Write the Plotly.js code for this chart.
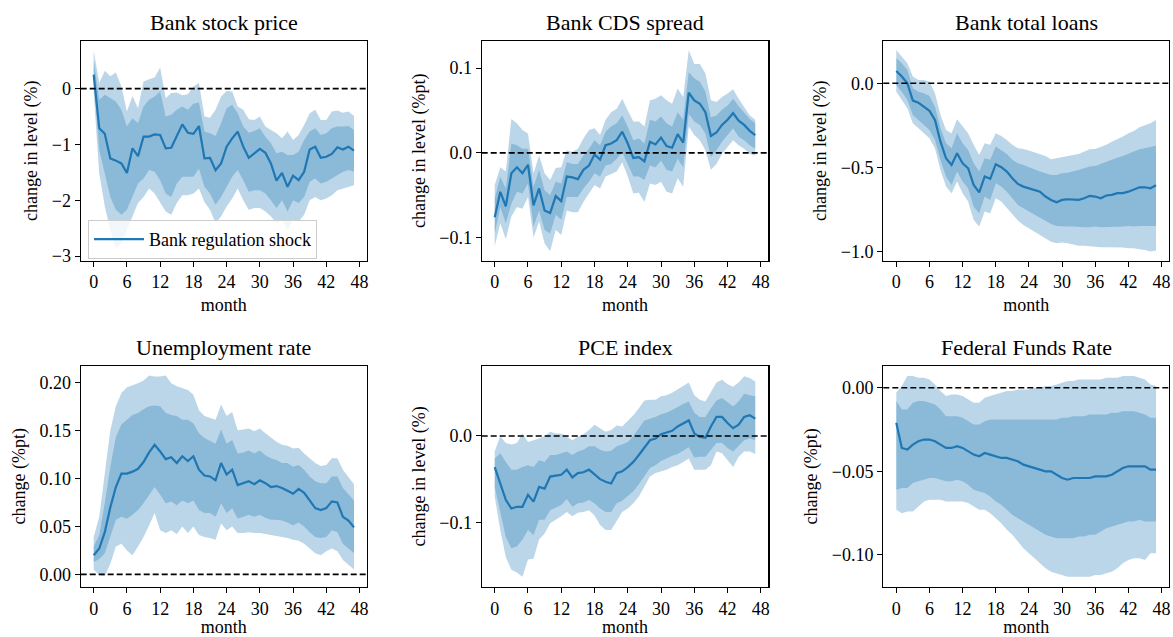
<!DOCTYPE html>
<html>
<head>
<meta charset="utf-8">
<script src="https://cdn.plot.ly/plotly-3.0.1.min.js"></script>
<style>html,body{margin:0;padding:0;background:#fff;}#chart{width:1173px;height:637px;}</style>
</head>
<body>
<div id="chart"></div>
<script>
// ---------------- DATA ----------------
const months = [0,1,2,3,4,5,6,7,8,9,10,11,12,13,14,15,16,17,18,19,20,21,22,23,24,25,26,27,28,29,30,31,32,33,34,35,36,37,38,39,40,41,42,43,44,45,46,47];
const xTicks = [0,6,12,18,24,30,36,42,48];
const panelTitles = ["Bank stock price","Bank CDS spread","Bank total loans","Unemployment rate","PCE index","Federal Funds Rate"];
const yTitles = ["change in level (%)","change in level (%pt)","change in level (%)","change (%pt)","change in level (%)","change (%pt)"];
const legendName = "Bank regulation shock";

// Bank stock price
const stock_med = [0.25,-0.71,-0.81,-1.25,-1.29,-1.34,-1.51,-1.07,-1.21,-0.86,-0.86,-0.82,-0.83,-1.07,-1.06,-0.85,-0.64,-0.79,-0.81,-0.67,-1.25,-1.24,-1.46,-1.34,-1.04,-0.89,-0.77,-1.04,-1.24,-1.16,-1.08,-1.15,-1.34,-1.65,-1.51,-1.76,-1.56,-1.64,-1.49,-1.09,-1.04,-1.24,-1.22,-1.17,-1.05,-1.09,-1.04,-1.11];
const stock_hi90 = [0.68,0.10,0.32,0.22,0.29,0.04,-0.41,-0.13,-0.35,0.13,0.17,0.20,0.38,-0.17,-0.08,-0.07,-0.12,-0.10,0.04,0.10,-0.50,-0.52,-0.38,-0.14,-0.04,-0.05,-0.32,-0.38,-0.55,-0.56,-0.50,-0.68,-0.74,-0.80,-0.89,-0.77,-0.92,-0.83,-0.65,-0.44,-0.38,-0.56,-0.56,-0.41,-0.39,-0.43,-0.41,-0.49];
const stock_hi68 = [0.51,-0.20,-0.11,-0.17,-0.23,-0.38,-0.68,-0.53,-0.62,-0.32,-0.20,-0.14,-0.05,-0.50,-0.47,-0.38,-0.32,-0.38,-0.27,-0.25,-0.77,-0.80,-0.85,-0.62,-0.35,-0.29,-0.44,-0.68,-0.79,-0.76,-0.71,-0.86,-0.98,-1.16,-1.13,-1.19,-1.19,-1.13,-0.92,-0.77,-0.71,-0.83,-0.80,-0.71,-0.68,-0.68,-0.67,-0.74];
const stock_lo68 = [0.16,-1.10,-1.52,-1.94,-2.17,-2.26,-2.17,-1.94,-1.70,-1.61,-1.46,-1.49,-1.64,-1.88,-1.94,-1.70,-1.58,-1.58,-1.58,-1.43,-1.76,-1.88,-2.08,-1.94,-1.76,-1.58,-1.46,-1.64,-1.85,-1.82,-1.82,-1.88,-2.00,-2.14,-2.00,-2.20,-2.00,-2.05,-1.94,-1.67,-1.61,-1.70,-1.67,-1.61,-1.55,-1.49,-1.46,-1.49];
const stock_lo90 = [-0.08,-1.52,-2.11,-2.53,-2.86,-2.77,-2.53,-2.29,-2.05,-1.94,-1.79,-1.88,-2.03,-2.20,-2.26,-2.05,-1.91,-1.91,-1.88,-1.79,-2.03,-2.17,-2.41,-2.29,-2.11,-1.97,-1.79,-2.00,-2.17,-2.14,-2.14,-2.20,-2.29,-2.41,-2.35,-2.53,-2.35,-2.38,-2.26,-2.00,-1.94,-2.00,-1.97,-1.91,-1.82,-1.79,-1.76,-1.73];

// Bank CDS spread
const cds_med = [-0.076,-0.046,-0.063,-0.024,-0.017,-0.024,-0.014,-0.062,-0.042,-0.068,-0.071,-0.051,-0.057,-0.028,-0.029,-0.031,-0.020,-0.015,-0.002,-0.008,0.009,0.011,0.015,0.025,0.011,-0.006,-0.005,-0.010,0.013,0.010,0.018,0.008,0.006,0.022,0.012,0.071,0.062,0.058,0.048,0.020,0.024,0.033,0.039,0.047,0.038,0.033,0.026,0.021];
const cds_hi90 = [-0.038,-0.017,-0.022,0.040,0.035,0.027,0.023,-0.024,-0.003,-0.024,-0.032,-0.018,-0.017,0.003,0.001,0.005,0.017,0.027,0.029,0.021,0.039,0.048,0.052,0.064,0.050,0.037,0.037,0.031,0.062,0.064,0.068,0.062,0.058,0.076,0.066,0.121,0.105,0.105,0.094,0.062,0.060,0.066,0.070,0.075,0.064,0.054,0.044,0.039];
const cds_hi68 = [-0.054,-0.028,-0.042,0.011,0.009,0.005,0.005,-0.040,-0.020,-0.044,-0.050,-0.034,-0.036,-0.011,-0.013,-0.013,-0.003,0.005,0.015,0.009,0.025,0.031,0.035,0.044,0.031,0.015,0.017,0.011,0.039,0.037,0.043,0.035,0.031,0.048,0.039,0.095,0.088,0.084,0.072,0.042,0.044,0.051,0.056,0.064,0.055,0.048,0.040,0.035];
const cds_lo68 = [-0.095,-0.064,-0.083,-0.060,-0.046,-0.048,-0.036,-0.087,-0.068,-0.091,-0.095,-0.073,-0.079,-0.052,-0.052,-0.052,-0.042,-0.034,-0.024,-0.028,-0.015,-0.013,-0.007,0.001,-0.013,-0.028,-0.028,-0.032,-0.015,-0.017,-0.009,-0.020,-0.022,-0.007,-0.017,0.046,0.037,0.033,0.023,-0.005,0.003,0.013,0.021,0.029,0.019,0.015,0.009,0.005];
const cds_lo90 = [-0.110,-0.083,-0.102,-0.075,-0.064,-0.066,-0.052,-0.100,-0.081,-0.107,-0.116,-0.091,-0.097,-0.068,-0.070,-0.070,-0.058,-0.048,-0.038,-0.042,-0.028,-0.025,-0.022,-0.011,-0.028,-0.048,-0.047,-0.058,-0.036,-0.038,-0.034,-0.046,-0.048,-0.030,-0.040,0.031,0.021,0.015,0.003,-0.020,-0.013,-0.001,0.007,0.015,0.009,0.005,-0.001,-0.003];

// Bank total loans
const loan_med = [0.073,0.040,0.000,-0.103,-0.115,-0.139,-0.164,-0.218,-0.347,-0.446,-0.485,-0.416,-0.475,-0.505,-0.604,-0.648,-0.554,-0.568,-0.481,-0.499,-0.525,-0.564,-0.598,-0.614,-0.624,-0.634,-0.644,-0.673,-0.693,-0.707,-0.693,-0.689,-0.693,-0.693,-0.683,-0.669,-0.673,-0.683,-0.667,-0.663,-0.653,-0.653,-0.644,-0.630,-0.618,-0.618,-0.624,-0.606];
const loan_hi90 = [0.198,0.158,0.119,0.040,0.020,0.020,0.010,-0.059,-0.188,-0.277,-0.297,-0.214,-0.257,-0.297,-0.366,-0.426,-0.356,-0.366,-0.297,-0.313,-0.337,-0.366,-0.386,-0.390,-0.400,-0.412,-0.420,-0.432,-0.451,-0.444,-0.436,-0.432,-0.426,-0.420,-0.406,-0.392,-0.390,-0.376,-0.366,-0.347,-0.333,-0.317,-0.297,-0.283,-0.261,-0.248,-0.238,-0.218];
const loan_hi68 = [0.149,0.119,0.079,-0.030,-0.050,-0.059,-0.075,-0.139,-0.267,-0.356,-0.386,-0.297,-0.356,-0.396,-0.475,-0.525,-0.446,-0.455,-0.376,-0.396,-0.420,-0.455,-0.475,-0.485,-0.499,-0.511,-0.525,-0.535,-0.545,-0.545,-0.535,-0.531,-0.525,-0.515,-0.505,-0.495,-0.491,-0.479,-0.465,-0.451,-0.442,-0.432,-0.420,-0.406,-0.392,-0.386,-0.380,-0.372];
const loan_lo68 = [-0.010,-0.050,-0.099,-0.188,-0.218,-0.248,-0.277,-0.337,-0.455,-0.554,-0.604,-0.525,-0.584,-0.624,-0.733,-0.772,-0.673,-0.693,-0.594,-0.614,-0.644,-0.683,-0.723,-0.743,-0.762,-0.782,-0.802,-0.822,-0.836,-0.848,-0.851,-0.851,-0.851,-0.855,-0.855,-0.855,-0.851,-0.855,-0.855,-0.851,-0.851,-0.851,-0.848,-0.851,-0.848,-0.848,-0.851,-0.848];
const loan_lo90 = [-0.050,-0.099,-0.149,-0.238,-0.267,-0.297,-0.327,-0.386,-0.515,-0.614,-0.653,-0.584,-0.653,-0.703,-0.812,-0.851,-0.762,-0.772,-0.683,-0.703,-0.743,-0.782,-0.816,-0.842,-0.861,-0.881,-0.901,-0.921,-0.941,-0.950,-0.946,-0.950,-0.960,-0.966,-0.966,-0.970,-0.970,-0.974,-0.974,-0.974,-0.974,-0.976,-0.980,-0.980,-0.986,-0.990,-1.000,-0.994];

// Unemployment rate
const un_med = [0.020,0.027,0.044,0.070,0.091,0.105,0.105,0.107,0.110,0.117,0.127,0.135,0.128,0.120,0.122,0.116,0.123,0.118,0.123,0.109,0.103,0.102,0.098,0.116,0.104,0.109,0.093,0.095,0.097,0.094,0.098,0.095,0.091,0.092,0.090,0.087,0.084,0.089,0.085,0.077,0.069,0.067,0.069,0.076,0.075,0.060,0.056,0.049];
const un_hi90 = [0.039,0.060,0.105,0.150,0.175,0.189,0.195,0.197,0.199,0.202,0.207,0.206,0.206,0.207,0.199,0.196,0.194,0.192,0.187,0.171,0.165,0.163,0.161,0.177,0.165,0.169,0.150,0.151,0.152,0.149,0.152,0.147,0.142,0.138,0.135,0.134,0.131,0.132,0.126,0.121,0.116,0.113,0.114,0.121,0.121,0.109,0.102,0.094];
const un_hi68 = [0.029,0.041,0.074,0.112,0.143,0.156,0.161,0.166,0.168,0.172,0.175,0.176,0.175,0.168,0.166,0.165,0.161,0.161,0.157,0.147,0.142,0.139,0.136,0.151,0.136,0.140,0.126,0.127,0.129,0.126,0.129,0.124,0.121,0.119,0.116,0.116,0.112,0.114,0.109,0.102,0.097,0.095,0.095,0.102,0.102,0.090,0.084,0.077];
const un_lo68 = [0.013,0.016,0.022,0.040,0.057,0.060,0.058,0.062,0.067,0.074,0.083,0.091,0.083,0.074,0.076,0.072,0.077,0.074,0.077,0.067,0.064,0.064,0.060,0.074,0.064,0.069,0.058,0.060,0.062,0.060,0.062,0.059,0.057,0.057,0.056,0.054,0.051,0.054,0.050,0.044,0.039,0.038,0.039,0.046,0.044,0.032,0.027,0.022];
const un_lo90 = [0.005,-0.001,-0.002,0.011,0.029,0.032,0.025,0.020,0.029,0.039,0.051,0.064,0.046,0.043,0.046,0.042,0.050,0.043,0.050,0.041,0.039,0.038,0.036,0.053,0.046,0.050,0.043,0.043,0.044,0.043,0.043,0.042,0.041,0.040,0.039,0.038,0.036,0.035,0.032,0.027,0.022,0.020,0.024,0.027,0.024,0.015,0.010,0.005];

// PCE index
const pce_med = [-0.036,-0.055,-0.074,-0.084,-0.082,-0.082,-0.068,-0.076,-0.059,-0.061,-0.047,-0.046,-0.045,-0.039,-0.048,-0.043,-0.042,-0.039,-0.044,-0.050,-0.053,-0.055,-0.043,-0.041,-0.036,-0.030,-0.022,-0.013,-0.005,-0.003,0.002,0.004,0.006,0.011,0.015,0.018,0.003,-0.001,-0.002,0.011,0.022,0.022,0.015,0.009,0.013,0.022,0.024,0.020];
const pce_hi90 = [-0.018,0.000,-0.008,-0.010,-0.008,0.003,-0.007,-0.005,-0.003,0.000,0.005,0.003,0.003,-0.001,-0.005,-0.001,0.002,0.007,0.013,0.009,0.005,0.007,0.012,0.011,0.017,0.024,0.032,0.041,0.042,0.042,0.046,0.047,0.050,0.054,0.058,0.062,0.047,0.042,0.040,0.051,0.062,0.065,0.060,0.057,0.062,0.069,0.067,0.063];
const pce_hi68 = [-0.026,-0.020,-0.030,-0.039,-0.039,-0.036,-0.034,-0.036,-0.028,-0.030,-0.022,-0.022,-0.020,-0.018,-0.022,-0.018,-0.016,-0.012,-0.012,-0.016,-0.018,-0.017,-0.012,-0.010,-0.007,0.000,0.009,0.018,0.020,0.022,0.025,0.027,0.030,0.034,0.037,0.040,0.027,0.022,0.022,0.032,0.041,0.044,0.039,0.034,0.040,0.049,0.047,0.046];
const pce_lo68 = [-0.059,-0.088,-0.117,-0.130,-0.128,-0.120,-0.109,-0.115,-0.097,-0.097,-0.086,-0.083,-0.080,-0.073,-0.082,-0.078,-0.077,-0.074,-0.078,-0.084,-0.088,-0.088,-0.078,-0.075,-0.069,-0.064,-0.056,-0.047,-0.037,-0.034,-0.029,-0.026,-0.023,-0.021,-0.017,-0.013,-0.025,-0.024,-0.024,-0.016,-0.008,-0.008,-0.014,-0.018,-0.012,-0.005,-0.003,-0.005];
const pce_lo90 = [-0.070,-0.109,-0.140,-0.155,-0.158,-0.163,-0.143,-0.142,-0.120,-0.113,-0.101,-0.097,-0.093,-0.088,-0.093,-0.089,-0.088,-0.086,-0.092,-0.103,-0.109,-0.109,-0.099,-0.088,-0.084,-0.078,-0.070,-0.059,-0.047,-0.043,-0.041,-0.039,-0.036,-0.034,-0.030,-0.026,-0.039,-0.039,-0.039,-0.034,-0.018,-0.020,-0.028,-0.036,-0.024,-0.018,-0.018,-0.021];

// Federal Funds Rate
const ffr_med = [-0.021,-0.036,-0.037,-0.034,-0.032,-0.031,-0.031,-0.032,-0.034,-0.036,-0.036,-0.035,-0.036,-0.038,-0.040,-0.041,-0.039,-0.040,-0.041,-0.042,-0.042,-0.043,-0.044,-0.046,-0.047,-0.048,-0.049,-0.050,-0.050,-0.052,-0.054,-0.055,-0.054,-0.054,-0.054,-0.054,-0.053,-0.053,-0.053,-0.052,-0.050,-0.048,-0.047,-0.047,-0.047,-0.047,-0.049,-0.049];
const ffr_hi90 = [-0.003,0.001,0.007,0.007,0.006,0.006,0.005,0.002,-0.002,-0.005,-0.004,-0.004,-0.005,-0.007,-0.009,-0.009,-0.006,-0.005,-0.004,-0.003,-0.002,-0.002,-0.001,-0.001,-0.001,0.000,0.000,0.001,0.001,0.002,0.003,0.004,0.004,0.005,0.005,0.005,0.005,0.005,0.006,0.006,0.006,0.007,0.007,0.007,0.006,0.005,0.002,0.001];
const ffr_hi68 = [-0.008,-0.013,-0.013,-0.009,-0.008,-0.008,-0.009,-0.010,-0.013,-0.017,-0.017,-0.017,-0.018,-0.020,-0.022,-0.022,-0.020,-0.019,-0.019,-0.019,-0.019,-0.019,-0.019,-0.019,-0.019,-0.019,-0.019,-0.019,-0.019,-0.019,-0.018,-0.018,-0.017,-0.017,-0.017,-0.016,-0.016,-0.016,-0.016,-0.015,-0.015,-0.014,-0.014,-0.014,-0.015,-0.016,-0.018,-0.018];
const ffr_lo68 = [-0.061,-0.060,-0.060,-0.057,-0.056,-0.055,-0.054,-0.054,-0.055,-0.056,-0.056,-0.055,-0.056,-0.058,-0.061,-0.062,-0.063,-0.065,-0.068,-0.070,-0.073,-0.076,-0.078,-0.080,-0.082,-0.084,-0.086,-0.088,-0.089,-0.090,-0.090,-0.090,-0.090,-0.089,-0.089,-0.088,-0.088,-0.086,-0.084,-0.083,-0.082,-0.081,-0.080,-0.080,-0.079,-0.080,-0.080,-0.080];
const ffr_lo90 = [-0.073,-0.075,-0.074,-0.074,-0.071,-0.068,-0.067,-0.067,-0.067,-0.068,-0.068,-0.068,-0.068,-0.069,-0.071,-0.073,-0.073,-0.075,-0.078,-0.081,-0.085,-0.088,-0.092,-0.096,-0.099,-0.102,-0.105,-0.108,-0.110,-0.111,-0.112,-0.113,-0.113,-0.113,-0.113,-0.113,-0.112,-0.112,-0.111,-0.110,-0.108,-0.105,-0.103,-0.102,-0.102,-0.103,-0.099,-0.099];

// ---------------- CHART ----------------
const series = [
  {med: stock_med, hi90: stock_hi90, hi68: stock_hi68, lo68: stock_lo68, lo90: stock_lo90},
  {med: cds_med, hi90: cds_hi90, hi68: cds_hi68, lo68: cds_lo68, lo90: cds_lo90},
  {med: loan_med, hi90: loan_hi90, hi68: loan_hi68, lo68: loan_lo68, lo90: loan_lo90},
  {med: un_med, hi90: un_hi90, hi68: un_hi68, lo68: un_lo68, lo90: un_lo90},
  {med: pce_med, hi90: pce_hi90, hi68: pce_hi68, lo68: pce_lo68, lo90: pce_lo90},
  {med: ffr_med, hi90: ffr_hi90, hi68: ffr_hi68, lo68: ffr_lo68, lo90: ffr_lo90}
];

const W = 1173, H = 637;
const FONT = 'Liberation Serif, "Times New Roman", serif';
const BLUE = '#1f77b4';
const BAND = 'rgba(31,119,180,0.3)';
const FS = 18;
const colsPx = [[80.7, 367], [481.7, 768.3], [883.3, 1169]];
const rowsPx = [[41, 260.5], [366, 586.7]];
const yRanges = [[-3.08, 0.854], [-0.127, 0.132], [-1.053, 0.251], [-0.0128, 0.217], [-0.1745, 0.081], [-0.119, 0.013]];
const yDtick = [1, 0.1, 0.5, 0.05, 0.1, 0.05];
const yFmt = ['d', '.1f', '.1f', '.2f', '.1f', '.2f'];

const traces = [];
const layout = {
  width: W, height: H,
  margin: {l: 0, r: 0, t: 0, b: 0},
  paper_bgcolor: '#fff', plot_bgcolor: '#fff',
  font: {family: FONT, size: FS, color: '#000'},
  showlegend: true,
  legend: {
    x: 88 / W, y: 1 - 220 / H, xanchor: 'left', yanchor: 'top',
    bgcolor: 'rgba(255,255,255,0.8)', bordercolor: '#cccccc', borderwidth: 1,
    font: {family: FONT, size: FS, color: '#000'},
    itemwidth: 50
  },
  annotations: [], shapes: []
};

for (let i = 0; i < 6; i++) {
  const r = Math.floor(i / 3), c = i % 3;
  const sfx = i === 0 ? '' : String(i + 1);
  const xa = 'x' + sfx, ya = 'y' + sfx;
  const s = series[i];
  const base = {x: months, xaxis: xa, yaxis: ya, mode: 'lines', showlegend: false, hoverinfo: 'skip'};
  traces.push(Object.assign({}, base, {y: s.lo90, line: {width: 0, color: BAND}, fill: 'none'}));
  traces.push(Object.assign({}, base, {y: s.hi90, line: {width: 0, color: BAND}, fill: 'tonexty', fillcolor: BAND}));
  traces.push(Object.assign({}, base, {y: s.lo68, line: {width: 0, color: BAND}, fill: 'none'}));
  traces.push(Object.assign({}, base, {y: s.hi68, line: {width: 0, color: BAND}, fill: 'tonexty', fillcolor: BAND}));
  traces.push(Object.assign({}, base, {y: s.med, line: {width: 2.2, color: BLUE}, name: legendName, showlegend: i === 0}));

  const [x0, x1] = colsPx[c], [yt, yb] = rowsPx[r];
  layout['xaxis' + sfx] = {
    domain: [x0 / W, x1 / W], anchor: ya, range: [-2.35, 49.35],
    tickmode: 'array', tickvals: xTicks, ticktext: xTicks.map(String),
    ticks: 'outside', ticklen: 5, tickwidth: 1, tickcolor: '#000',
    showline: true, mirror: true, linecolor: '#000', linewidth: 1.2,
    showgrid: false, zeroline: false,
    tickfont: {family: FONT, size: FS, color: '#000'},
    title: {text: 'month', font: {family: FONT, size: FS, color: '#000'}, standoff: 7}
  };
  layout['yaxis' + sfx] = {
    domain: [1 - yb / H, 1 - yt / H], anchor: xa, range: yRanges[i],
    dtick: yDtick[i], tick0: 0, tickformat: yFmt[i],
    ticks: 'outside', ticklen: 5, tickwidth: 1, tickcolor: '#000',
    showline: true, mirror: true, linecolor: '#000', linewidth: 1.2,
    showgrid: false, zeroline: false,
    tickfont: {family: FONT, size: FS, color: '#000'},
    title: {text: yTitles[i], font: {family: FONT, size: FS, color: '#000'}, standoff: 9}
  };
  layout.shapes.push({
    type: 'line', xref: xa + ' domain', yref: ya, x0: 0, x1: 1, y0: 0, y1: 0,
    line: {color: '#000', width: 1.6, dash: '6px,3px'}, layer: 'above'
  });
  layout.annotations.push({
    text: panelTitles[i], xref: 'paper', yref: 'paper',
    x: (x0 + x1) / 2 / W, y: 1 - (yt - 4) / H, xanchor: 'center', yanchor: 'bottom',
    showarrow: false, font: {family: FONT, size: 22, color: '#000'}
  });
}

Plotly.newPlot('chart', traces, layout, {staticPlot: true, displayModeBar: false});
</script>
</body>
</html>
